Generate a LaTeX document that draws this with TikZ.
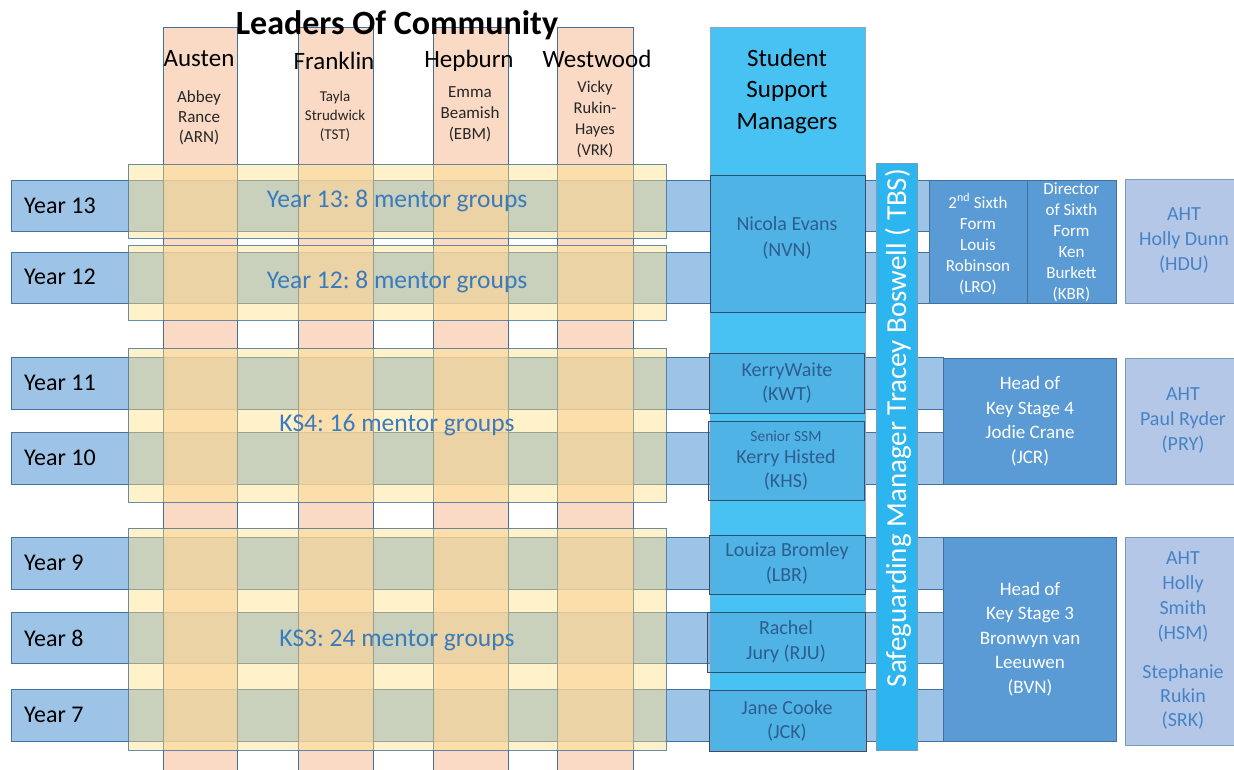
\documentclass[tikz,border=0pt]{standalone}
\usepackage{fontspec}
\setmainfont{Carlito}
\frenchspacing
\definecolor{barblue}{HTML}{9DC3E6}
\definecolor{bordblue}{HTML}{41719C}
\definecolor{peach}{HTML}{F8CBAD}
\definecolor{mentorY}{HTML}{FFE28A}
\definecolor{ssmcolc}{HTML}{48C2F2}
\definecolor{ssmboxc}{HTML}{5B9BD5}
\definecolor{sgbarc}{HTML}{2CB5EE}
\definecolor{headc}{HTML}{5B9BD5}
\definecolor{ahtc}{HTML}{B4C7E7}
\definecolor{ahttext}{HTML}{4683C6}
\definecolor{mentortext}{HTML}{3A7BBE}
\definecolor{ssmtext}{HTML}{2E5D8E}
\tikzset{
  yearbar/.style={fill=barblue, draw=bordblue, line width=0.8pt},
  leadcol/.style={fill=peach, fill opacity=0.7, draw=bordblue, line width=0.8pt},
  mentorbox/.style={fill=mentorY, fill opacity=0.45, draw=bordblue, draw opacity=0.8, line width=0.8pt},
  ssmcol/.style={fill=ssmcolc, draw=bordblue!60, line width=0.6pt},
  ssmbox/.style={fill=ssmboxc, fill opacity=0.38, draw=bordblue!70!black, line width=0.9pt},
  sgbar/.style={fill=sgbarc, draw=bordblue!70, line width=0.6pt},
  headbox/.style={fill=headc, draw=bordblue, line width=0.8pt},
  ahtbox/.style={fill=ahtc, draw=bordblue!70, line width=0.8pt},
  txt/.style={inner sep=0pt, align=center},
  yearlbl/.style={inner sep=0pt, anchor=west, font=\fontsize{24}{28}\selectfont},
  colhead/.style={inner sep=0pt, font=\fontsize{25}{30}\selectfont},
  mentorlbl/.style={inner sep=0pt, text=mentortext, font=\fontsize{25.5}{30}\selectfont},
  ssmlbl/.style={txt, text=ssmtext, font=\fontsize{20}{24.5}\selectfont},
  headlbl/.style={txt, text=white},
  ahtlbl/.style={txt, text=ahttext, font=\fontsize{20}{24.7}\selectfont}
}
\begin{document}
\begin{tikzpicture}[x=1pt,y=-1pt]
\useasboundingbox (0,0) rectangle (1234,769);
\clip (0,0) rectangle (1234,769);
% year bars
\foreach \t/\b in {180/231,252/303,357/409,432/484,537/589,612/663,689/741}
  \path[yearbar] (11,\t) rectangle (943,\b);
% leader columns
\foreach \l/\r in {163/237,298/373,433/508,557/633}
  \path[leadcol] (\l,27) rectangle (\r,780);
% mentor group boxes
\path[mentorbox] (128,164) rectangle (666,238);
\path[mentorbox] (128,245) rectangle (666,320);
\path[mentorbox] (128,348) rectangle (666,502);
\path[mentorbox] (128,528) rectangle (666,750);
% student support managers column
\path[ssmcol] (710,27) rectangle (865,750);
\path[ssmbox] (710,175) rectangle (865,312);
\path[ssmbox] (709,353) rectangle (864,413);
\path[ssmbox] (708,421) rectangle (864,500);
\path[ssmbox] (709,535) rectangle (865,594);
\path[ssmbox] (707,612) rectangle (865,672);
\path[ssmbox] (709,690) rectangle (866,751);
% safeguarding bar
\path[sgbar] (876,163) rectangle (917,750);
% right boxes
\path[headbox] (929,180) rectangle (1027,303);
\path[headbox] (1027,180) rectangle (1116,303);
\path[headbox] (943,358) rectangle (1116,484);
\path[headbox] (943,537) rectangle (1116,741);
\path[ahtbox] (1125,179) rectangle (1260,303);
\path[ahtbox] (1125,358) rectangle (1260,484);
\path[ahtbox] (1125,537) rectangle (1260,745);

% year labels
\node[yearlbl] (ly13) at (24,206) {Year 13};
\node[yearlbl] (ly12) at (24,277) {Year 12};
\node[yearlbl] (ly11) at (24,383) {Year 11};
\node[yearlbl] (ly10) at (24,458) {Year 10};
\node[yearlbl] (ly9) at (24,563) {Year 9};
\node[yearlbl] (ly8) at (24,638) {Year 8};
\node[yearlbl] (ly7) at (24,715) {Year 7};

% mentor texts
\node[mentorlbl] (m13) at (397,201) {Year 13: 8 mentor groups};
\node[mentorlbl] (m12) at (397,282) {Year 12: 8 mentor groups};
\node[mentorlbl] (mks4) at (397,425) {KS4: 16 mentor groups};
\node[mentorlbl] (mks3) at (397,640) {KS3: 24 mentor groups};

% column heads
\node[colhead] (hAus) at (199,59) {Austen};
\node[colhead] (hFra) at (334,61) {Franklin};
\node[colhead] (hHep) at (469,61) {Hepburn};
\node[colhead] (hWes) at (597,59) {Westwood};
\node[txt, text=black!85, font=\fontsize{17}{20}\selectfont] (nARN) at (199,118) {Abbey\\Rance\\(ARN)};
\node[txt, text=black!85, font=\fontsize{15}{19}\selectfont] (nTST) at (335,116) {Tayla\\Strudwick\\(TST)};
\node[txt, text=black!85, font=\fontsize{17}{21}\selectfont] (nEBM) at (470,114) {Emma\\Beamish\\(EBM)};
\node[txt, text=black!85, font=\fontsize{16.5}{21}\selectfont] (nVRK) at (595,119) {Vicky\\Rukin-\\Hayes\\(VRK)};

% SSM texts
\node[txt, font=\fontsize{25}{31.5}\selectfont] (ssmh) at (787,91) {Student\\Support\\Managers};
\node[ssmlbl, font=\fontsize{20}{26}\selectfont] (nNVN) at (787,238) {Nicola Evans\\(NVN)};
\node[ssmlbl] (nKWT) at (787,383) {KerryWaite\\(KWT)};
\node[txt, text=ssmtext, font=\fontsize{15.5}{18}\selectfont] (nSSSM) at (786,436) {Senior SSM};
\node[ssmlbl] (nKHS) at (786,470) {Kerry Histed\\(KHS)};
\node[ssmlbl] (nLBR) at (787,563.5) {Louiza Bromley\\(LBR)};
\node[ssmlbl] (nRJU) at (786,641.5) {Rachel\\Jury (RJU)};
\node[ssmlbl] (nJCK) at (787,721) {Jane Cooke\\(JCK)};

% safeguarding text
\node[inner sep=0pt, rotate=90, text=white, font=\fontsize{29}{32}\selectfont] (tbs) at (898,428) {Safeguarding Manager Tracey Boswell ( TBS)};

% right texts
\node[headlbl, font=\fontsize{17}{21}\selectfont] (nLRO) at (978,244) {2\textsuperscript{nd} Sixth\\Form\\Louis\\Robinson\\(LRO)};
\node[headlbl, font=\fontsize{17}{21}\selectfont] (nKBR) at (1071.5,242.5) {Director\\of Sixth\\Form\\Ken\\Burkett\\(KBR)};
\node[headlbl, font=\fontsize{19}{24.5}\selectfont] (nJCR) at (1030,421) {Head of\\Key Stage 4\\Jodie Crane\\(JCR)};
\node[headlbl, font=\fontsize{19}{24.5}\selectfont] (nBVN) at (1030,639) {Head of\\Key Stage 3\\Bronwyn van\\Leeuwen\\(BVN)};
\node[ahtlbl, font=\fontsize{20}{25}\selectfont] (nHDU) at (1184,240) {AHT\\Holly Dunn\\(HDU)};
\node[ahtlbl] (nPRY) at (1183,420.5) {AHT\\Paul Ryder\\(PRY)};
\node[ahtlbl] (nHSM) at (1183,597) {AHT\\Holly\\Smith\\(HSM)};
\node[ahtlbl, font=\fontsize{20}{24}\selectfont] (nSRK) at (1183,697) {Stephanie\\Rukin\\(SRK)};

% title
\node[inner sep=0pt, font=\bfseries\fontsize{34}{40}\selectfont] (title) at (397,25) {Leaders Of Community};
\end{tikzpicture}
\end{document}
